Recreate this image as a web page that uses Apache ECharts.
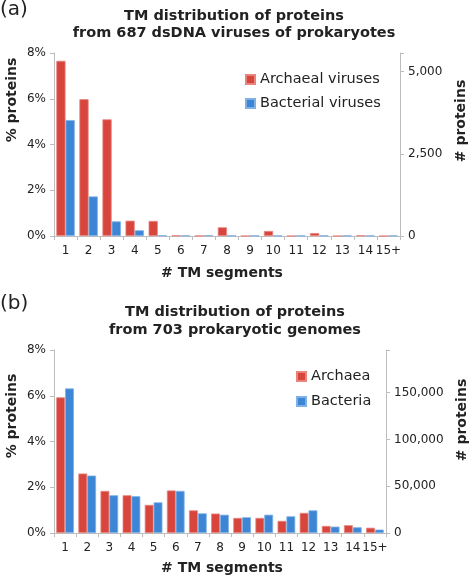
<!DOCTYPE html>
<html>
<head>
<meta charset="utf-8">
<script src="https://cdn.jsdelivr.net/npm/echarts@6/dist/echarts.min.js"></script>
<style>
html,body{margin:0;padding:0;background:#fff;}
#c{width:472px;height:579px;}
</style>
</head>
<body>
<div id="c"></div>
<script>
const categories = ['1','2','3','4','5','6','7','8','9','10','11','12','13','14','15+'];
// Panel (a): % proteins, dsDNA viruses of prokaryotes
const archaealViruses = [7.66, 5.98, 5.10, 0.67, 0.66, 0.03, 0.01, 0.38, 0.0, 0.22, 0.0, 0.13, 0.0, 0.03, 0.0];
const bacterialViruses = [5.07, 1.73, 0.64, 0.25, 0.03, 0.02, 0.04, 0.02, 0.02, 0.02, 0.02, 0.02, 0.02, 0.02, 0.02];
// Panel (b): % proteins, prokaryotic genomes
const archaea = [5.93, 2.60, 1.84, 1.65, 1.23, 1.86, 0.99, 0.85, 0.66, 0.66, 0.53, 0.88, 0.31, 0.34, 0.23];
const bacteria = [6.32, 2.51, 1.65, 1.61, 1.34, 1.84, 0.86, 0.80, 0.69, 0.80, 0.73, 0.99, 0.28, 0.25, 0.15];
const pctTicks = [0, 2, 4, 6, 8];
const countTicksA = [0, 2500, 5000];
const countTicksB = [0, 50000, 100000, 150000];
const countMaxA = 5570;
const countMaxB = 195700;

const RED = '#d8453d', BLUE = '#3d86d5';
const FONT = 'DejaVu Sans';
const axisGray = '#bdbdbd';
const txt = '#222';

function fmtNum(v){ return v.toLocaleString('en-US'); }

function xAx(gi){
  return {
    type:'category', gridIndex:gi, data:categories,
    axisLine:{lineStyle:{color:axisGray}},
    axisTick:{show:true, length:4, lineStyle:{color:axisGray}, alignWithLabel:false},
    axisLabel:{color:txt, fontFamily:FONT, fontSize:12, margin:9, interval:0}
  };
}
function yPct(gi){
  return {
    type:'value', gridIndex:gi, min:0, max:8, interval:2, position:'left',
    axisLine:{show:true, lineStyle:{color:axisGray}},
    axisTick:{show:true, length:4, lineStyle:{color:axisGray}},
    splitLine:{show:false},
    axisLabel:{color:txt, fontFamily:FONT, fontSize:12, margin:8,
      formatter: v => pctTicks.indexOf(v) >= 0 ? v + '%' : ''}
  };
}
function yCount(gi, max, ticks, interval){
  return {
    type:'value', gridIndex:gi, min:0, max:max, interval:interval, position:'right',
    axisLine:{show:true, lineStyle:{color:axisGray}},
    axisTick:{show:true, length:4, lineStyle:{color:axisGray}},
    splitLine:{show:false},
    axisLabel:{color:txt, fontFamily:FONT, fontSize:12, margin:8,
      formatter: v => ticks.indexOf(v) >= 0 ? fmtNum(v) : ''}
  };
}
function bar(name, data, color, xi, yi){
  return {
    name:name, type:'bar', data:data, xAxisIndex:xi, yAxisIndex:yi,
    barGap:'0%', barCategoryGap:'20%',
    itemStyle:{color:color, borderColor:color === RED ? '#e8847e' : '#7fb1e6', borderWidth:0.8},
    emphasis:{disabled:true}, animation:false
  };
}

const chart = echarts.init(document.getElementById('c'), null, {renderer:'canvas'});
chart.setOption({
  animation:false,
  backgroundColor:'#fff',
  textStyle:{fontFamily:FONT},
  grid:[
    {left:54, right:72, top:53, height:183},
    {left:54, right:86, top:350, height:183}
  ],
  xAxis:[xAx(0), xAx(1)],
  yAxis:[yPct(0), yCount(0, countMaxA, countTicksA, 2500), yPct(1), yCount(1, countMaxB, countTicksB, 50000)],
  legend:[
    {data:['Archaeal viruses','Bacterial viruses'], orient:'vertical', left:240, top:67, itemWidth:9, itemHeight:9, itemGap:9,
     icon:'rect', textStyle:{fontFamily:FONT, fontSize:14.5, color:txt}, selectedMode:false},
    {data:['Archaea','Bacteria'], orient:'vertical', left:291, top:364, itemWidth:9, itemHeight:9, itemGap:10,
     icon:'rect', textStyle:{fontFamily:FONT, fontSize:14.5, color:txt}, selectedMode:false}
  ],
  series:[
    bar('Archaeal viruses', archaealViruses, RED, 0, 0),
    bar('Bacterial viruses', bacterialViruses, BLUE, 0, 0),
    bar('Archaea', archaea, RED, 1, 2),
    bar('Bacteria', bacteria, BLUE, 1, 2)
  ],
  graphic:[
    {type:'text', left:0, top:0, style:{text:'(a)', font:'20px "DejaVu Sans"', fill:txt}},
    {type:'text', left:0, top:294, style:{text:'(b)', font:'20px "DejaVu Sans"', fill:txt}},
    {type:'text', x:234, y:16, style:{text:'TM distribution of proteins', font:'bold 14.5px "DejaVu Sans"', fill:txt, align:'center', verticalAlign:'middle'}},
    {type:'text', x:234, y:33, style:{text:'from 687 dsDNA viruses of prokaryotes', font:'bold 14.5px "DejaVu Sans"', fill:txt, align:'center', verticalAlign:'middle'}},
    {type:'text', x:235, y:312, style:{text:'TM distribution of proteins', font:'bold 14.5px "DejaVu Sans"', fill:txt, align:'center', verticalAlign:'middle'}},
    {type:'text', x:235, y:330, style:{text:'from 703 prokaryotic genomes', font:'bold 14.5px "DejaVu Sans"', fill:txt, align:'center', verticalAlign:'middle'}},
    {type:'text', x:12, y:100, rotation:Math.PI/2, style:{text:'% proteins', font:'bold 14px "DejaVu Sans"', fill:txt, align:'center', verticalAlign:'middle'}},
    {type:'text', x:12, y:416, rotation:Math.PI/2, style:{text:'% proteins', font:'bold 14px "DejaVu Sans"', fill:txt, align:'center', verticalAlign:'middle'}},
    {type:'text', x:461, y:121, rotation:Math.PI/2, style:{text:'# proteins', font:'bold 14px "DejaVu Sans"', fill:txt, align:'center', verticalAlign:'middle'}},
    {type:'text', x:462, y:420, rotation:Math.PI/2, style:{text:'# proteins', font:'bold 14px "DejaVu Sans"', fill:txt, align:'center', verticalAlign:'middle'}},
    {type:'text', x:222, y:273, style:{text:'# TM segments', font:'bold 14px "DejaVu Sans"', fill:txt, align:'center', verticalAlign:'middle'}},
    {type:'text', x:222, y:568, style:{text:'# TM segments', font:'bold 14px "DejaVu Sans"', fill:txt, align:'center', verticalAlign:'middle'}}
  ]
});
</script>
</body>
</html>
